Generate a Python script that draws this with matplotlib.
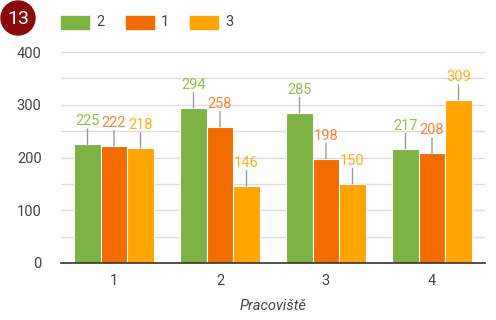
import matplotlib.pyplot as plt
from matplotlib.patches import Ellipse
import numpy as np

plt.rcParams['font.family'] = ['Roboto', 'DejaVu Sans']

# data
categories = ['1', '2', '3', '4']
series_names = ['2', '1', '3']
vals_2 = [225, 294, 285, 217]
vals_1 = [222, 258, 198, 208]
vals_3 = [218, 146, 150, 309]

bar_colors = ['#7cb342', '#f26c00', '#ffa400']
label_colors = ['#8bc34a', '#f5843a', '#ffae1a']

fig = plt.figure(figsize=(4.96, 3.2), dpi=100)
fig.patch.set_facecolor('white')
ax = fig.add_axes([61/496, 1 - 263/320, 424/496, 211/320])

x = np.arange(len(categories))
width = 0.25
all_vals = [vals_2, vals_1, vals_3]
for i, vals in enumerate(all_vals):
    locs = x + (i - 1) * width
    ax.bar(locs, vals, width=width, color=bar_colors[i], edgecolor='white',
           linewidth=0.8, zorder=3)
    for xl, v in zip(locs, vals):
        # small grey leader line, then the value above it
        ax.annotate('', xy=(xl, v), xytext=(0, 11), textcoords='offset points',
                    arrowprops=dict(arrowstyle='-', color='#999999', lw=1.0,
                                    shrinkA=0, shrinkB=0), zorder=4)
        ax.annotate(str(v), xy=(xl, v), xytext=(0, 11.5), textcoords='offset points',
                    ha='center', va='bottom', fontsize=10.5, color=label_colors[i],
                    zorder=5)

ax.set_xlim(-0.5, 3.5)
ax.set_ylim(0, 400)
ax.set_yticks([0, 100, 200, 300, 400])
ax.set_yticks([50, 150, 250, 350], minor=True)
ax.grid(axis='y', which='both', color='#dddddd', linewidth=1, zorder=0)
ax.tick_params(axis='y', which='both', length=0, labelsize=10.5, labelcolor='#444444', pad=14)
ax.tick_params(axis='x', length=0, labelsize=10.5, labelcolor='#444444', pad=8)
ax.set_xticks(x)
ax.set_xticklabels(categories)
for s in ['top', 'right', 'left']:
    ax.spines[s].set_visible(False)
ax.spines['bottom'].set_color('#333333')
ax.spines['bottom'].set_linewidth(1.2)
ax.spines['bottom'].set_zorder(6)
ax.set_xlabel('Pracoviště', fontstyle='italic', fontsize=10.5, color='#444444', labelpad=8)

# legend across the top
leg_x = [61, 126, 190]
for i, name in enumerate(series_names):
    fig.patches.append(plt.Rectangle((leg_x[i]/496, 1 - 29/320), 28/496, 13/320,
                                     transform=fig.transFigure, color=bar_colors[i]))
    fig.text((leg_x[i] + 35)/496, 1 - 22.5/320, name, fontsize=10.5, color='#444444',
             va='center', ha='left')

# red number badge
fig.patches.append(Ellipse((18/496, 1 - 18/320), 34/496, 34/320,
                           transform=fig.transFigure, color='#8b0a0a'))
fig.text(18/496, 1 - 18.5/320, '13', color='white', fontsize=14, ha='center', va='center')

fig.savefig('out.png', dpi=100)
